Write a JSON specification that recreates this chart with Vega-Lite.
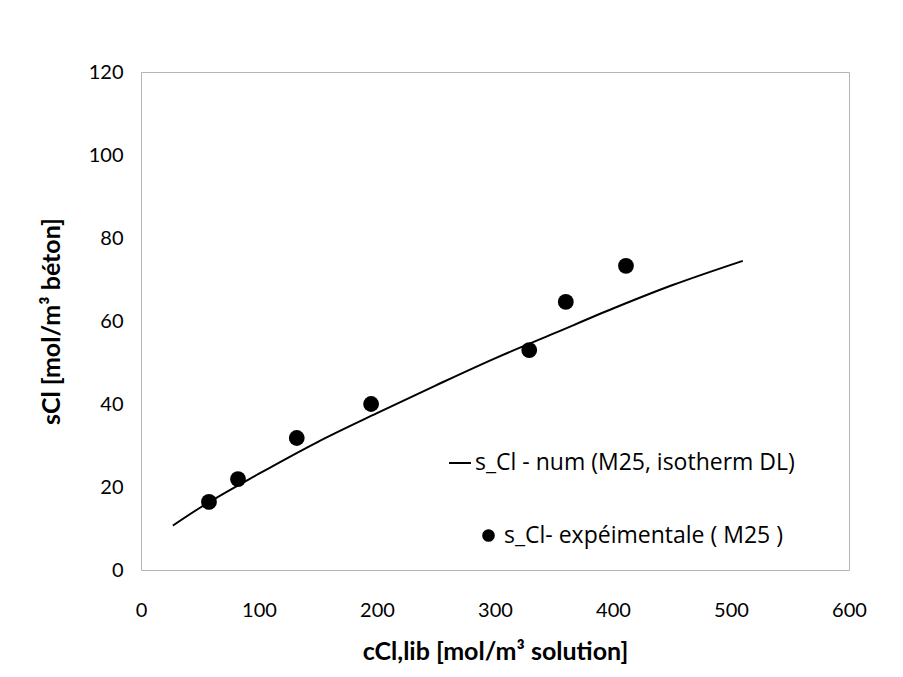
{
  "$schema": "https://vega.github.io/schema/vega-lite/v6.json",
  "width": 708,
  "height": 498,
  "autosize": {"type": "none"},
  "padding": {"left": 141, "top": 72, "right": 54, "bottom": 107},
  "background": "white",
  "config": {
    "font": "Lato",
    "view": {"stroke": "#b4b4b4", "strokeWidth": 1},
    "axis": {"grid": false, "ticks": false, "domain": false, "labelFlush": false, "labelFont": "Lato", "labelFontSize": 20, "labelColor": "#000000", "titleFont": "Lato", "titleFontSize": 25, "titleFontWeight": "bold", "titleColor": "#000000"},
    "legend": {"labelFont": "Open Sans", "labelFontSize": 23, "labelColor": "#000000", "padding": 0, "labelLimit": 0}
  },
  "datasets": {
    "num": [
      {"c": 27, "s": 10.7, "serie": "s_Cl - num (M25, isotherm DL)"},
      {"c": 50, "s": 15.0, "serie": "s_Cl - num (M25, isotherm DL)"},
      {"c": 100, "s": 23.2, "serie": "s_Cl - num (M25, isotherm DL)"},
      {"c": 150, "s": 30.9, "serie": "s_Cl - num (M25, isotherm DL)"},
      {"c": 200, "s": 37.8, "serie": "s_Cl - num (M25, isotherm DL)"},
      {"c": 250, "s": 44.5, "serie": "s_Cl - num (M25, isotherm DL)"},
      {"c": 300, "s": 51.0, "serie": "s_Cl - num (M25, isotherm DL)"},
      {"c": 350, "s": 57.0, "serie": "s_Cl - num (M25, isotherm DL)"},
      {"c": 400, "s": 63.0, "serie": "s_Cl - num (M25, isotherm DL)"},
      {"c": 450, "s": 68.6, "serie": "s_Cl - num (M25, isotherm DL)"},
      {"c": 510, "s": 74.5, "serie": "s_Cl - num (M25, isotherm DL)"}
    ],
    "exp": [
      {"c": 57.6, "s": 16.4, "mesure": "s_Cl- expéimentale ( M25 )"},
      {"c": 82.2, "s": 21.9, "mesure": "s_Cl- expéimentale ( M25 )"},
      {"c": 132, "s": 31.8, "mesure": "s_Cl- expéimentale ( M25 )"},
      {"c": 195, "s": 40.0, "mesure": "s_Cl- expéimentale ( M25 )"},
      {"c": 329, "s": 53.0, "mesure": "s_Cl- expéimentale ( M25 )"},
      {"c": 360, "s": 64.6, "mesure": "s_Cl- expéimentale ( M25 )"},
      {"c": 411, "s": 73.3, "mesure": "s_Cl- expéimentale ( M25 )"}
    ]
  },
  "layer": [
    {
      "data": {"name": "num"},
      "mark": {"type": "line", "strokeWidth": 2, "interpolate": "monotone"},
      "encoding": {
        "x": {"field": "c", "type": "quantitative", "scale": {"domain": [0, 600], "nice": false}, "axis": {"values": [0, 100, 200, 300, 400, 500, 600], "labelPadding": 30, "title": "cCl,lib [mol/m³ solution]", "titlePadding": 19}},
        "y": {"field": "s", "type": "quantitative", "scale": {"domain": [0, 120], "nice": false}, "axis": {"values": [0, 20, 40, 60, 80, 100, 120], "labelPadding": 18, "title": "sCl [mol/m³ béton]", "titlePadding": 24}},
        "stroke": {"field": "serie", "type": "nominal", "scale": {"range": ["#000000"]}, "legend": {"title": null, "orient": "none", "legendX": 307, "legendY": 379, "symbolType": "stroke", "symbolSize": 484, "symbolStrokeWidth": 2, "labelOffset": 3}}
      }
    },
    {
      "data": {"name": "exp"},
      "mark": {"type": "point", "filled": true, "color": "#000000", "opacity": 1, "size": 250},
      "encoding": {
        "x": {"field": "c", "type": "quantitative"},
        "y": {"field": "s", "type": "quantitative"},
        "shape": {"field": "mesure", "type": "nominal", "scale": {"range": ["circle"]}, "legend": {"title": null, "orient": "none", "legendX": 336, "legendY": 452, "symbolSize": 160, "symbolFillColor": "#000000", "symbolStrokeColor": "#000000", "symbolOpacity": 1, "labelOffset": 4}}
      }
    }
  ],
  "resolve": {"legend": {"shape": "independent", "stroke": "independent"}}
}
